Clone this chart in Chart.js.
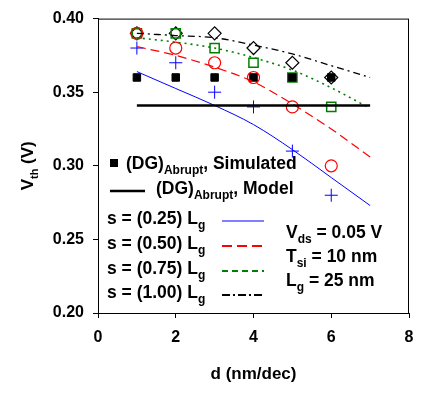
<!DOCTYPE html>
<html>
<head>
<meta charset="utf-8">
<script src="https://cdn.jsdelivr.net/npm/chart.js@4.4.1/dist/chart.umd.min.js"></script>
<style>
  html, body { margin: 0; padding: 0; background: #fff; }
  #wrap { position: relative; width: 424px; height: 393px; }
</style>
</head>
<body>
<div id="wrap"><canvas id="vthChart"></canvas></div>
<script>
// --- data ---
const dSim = [1, 2, 3, 4, 5, 6];
const dModel = [1, 2, 3, 4, 5, 6, 7];

const simAbrupt = [0.36, 0.36, 0.36, 0.36, 0.36, 0.36];
const modelAbrupt = [0.341, 0.341, 0.341, 0.341, 0.341, 0.341, 0.341];

const simS025 = [0.38, 0.37, 0.35, 0.34, 0.31, 0.28];
const simS050 = [0.39, 0.38, 0.37, 0.36, 0.34, 0.30];
const simS075 = [0.39, 0.39, 0.38, 0.37, 0.36, 0.34];
const simS100 = [0.39, 0.39, 0.39, 0.38, 0.37, 0.36];

const modelS025 = [0.364, 0.3525, 0.341, 0.328, 0.311, 0.292, 0.273];
const modelS050 = [0.381, 0.375, 0.367, 0.357, 0.342, 0.325, 0.306];
const modelS075 = [0.387, 0.384, 0.380, 0.3735, 0.365, 0.353, 0.339];
const modelS100 = [0.390, 0.3885, 0.387, 0.382, 0.376, 0.368, 0.360];

const xTicks = [0, 2, 4, 6, 8];
const yTicks = [0.20, 0.25, 0.30, 0.35, 0.40];

const FONT = '"Liberation Sans", Arial, sans-serif';
const BLUE = '#0000ff', RED = '#ff0000', GREEN = '#008000';
const LEG = 17.5;

const pts = (xs, ys) => xs.map((x, i) => ({ x: x, y: ys[i] }));

// draw text with subscripts: parts = [[text, isSub], ...]
function richWidth(ctx, parts, size) {
    let w = 0;
    parts.forEach(([t, sub]) => {
        ctx.font = `bold ${sub ? Math.round(size * 0.66) : size}px ${FONT}`;
        w += ctx.measureText(t).width;
    });
    return w;
}
function drawRich(ctx, parts, x, y, size) {
    parts.forEach(([t, sub]) => {
        ctx.font = `bold ${sub ? Math.round(size * 0.66) : size}px ${FONT}`;
        ctx.fillText(t, x, sub ? y + size * 0.28 : y);
        x += ctx.measureText(t).width;
    });
}

function sampleLine(ctx, x1, x2, y, color, width, dash) {
    ctx.save();
    ctx.strokeStyle = color;
    ctx.lineWidth = width;
    ctx.setLineDash(dash);
    ctx.beginPath();
    ctx.moveTo(x1, y);
    ctx.lineTo(x2, y);
    ctx.stroke();
    ctx.restore();
}

// --- frame, axis titles and legend ---
const annotations = {
    id: 'annotations',
    afterDraw(chart) {
        const { ctx, chartArea: a } = chart;
        ctx.save();
        ctx.strokeStyle = '#000';
        ctx.lineWidth = 1;
        ctx.strokeRect(a.left + 0.5, a.top + 0.5, a.right - a.left - 1, a.bottom - a.top);

        ctx.fillStyle = '#000';
        ctx.textAlign = 'left';
        ctx.textBaseline = 'alphabetic';

        // y title
        const yTitle = [['V', false], ['th', true], [' (V)', false]];
        ctx.save();
        ctx.translate(33, (a.top + a.bottom) / 2);
        ctx.rotate(-Math.PI / 2);
        drawRich(ctx, yTitle, -richWidth(ctx, yTitle, 17) / 2, 0, 17);
        ctx.restore();

        // x title
        const xTitle = [['d (nm/dec)', false]];
        drawRich(ctx, xTitle, (a.left + a.right) / 2 - richWidth(ctx, xTitle, 17) / 2, 379, 17);

        // legend
        ctx.fillRect(110, 159, 8, 8);
        drawRich(ctx, [['(DG)', false], ['Abrupt', true], [', Simulated', false]], 126, 169, LEG);
        sampleLine(ctx, 110, 145, 191, '#000', 2.5, []);
        drawRich(ctx, [['(DG)', false], ['Abrupt', true], [', Model', false]], 156, 194, LEG);

        const rows = [
            ['(0.25)', BLUE, 1.2, [], 218],
            ['(0.50)', RED, 2.2, [10, 5], 243],
            ['(0.75)', GREEN, 2.2, [6, 4], 268],
            ['(1.00)', '#000', 2.2, [8, 3, 2, 3], 292]
        ];
        rows.forEach(([s, col, w, dash, yc]) => {
            ctx.fillStyle = '#000';
            drawRich(ctx, [['s = ' + s + ' L', false], ['g', true]], 107, yc + 6, LEG);
            sampleLine(ctx, 222, 264, yc + 3, col, w, dash);
        });

        ctx.fillStyle = '#000';
        drawRich(ctx, [['V', false], ['ds', true], [' = 0.05 V', false]], 286, 238, LEG);
        drawRich(ctx, [['T', false], ['si', true], [' = 10 nm', false]], 286, 262, LEG);
        drawRich(ctx, [['L', false], ['g', true], [' = 25 nm', false]], 286, 286, LEG);
        ctx.restore();
    }
};

const modelLine = (data, color, width, dash) => ({
    data: pts(dModel, data),
    borderColor: color,
    borderWidth: width,
    borderDash: dash,
    pointRadius: 0,
    fill: false,
    tension: 0.4,
    cubicInterpolationMode: 'monotone'
});
const simPoints = (data, style, color, fillColor, radius, width) => ({
    data: pts(dSim, data),
    showLine: false,
    pointStyle: style,
    pointRadius: radius,
    pointBorderColor: color,
    pointBackgroundColor: fillColor,
    pointBorderWidth: width
});

new Chart(document.getElementById('vthChart'), {
    type: 'line',
    data: {
        datasets: [
            modelLine(modelAbrupt, '#000', 2.5, []),
            modelLine(modelS025, BLUE, 1, []),
            modelLine(modelS050, RED, 1.2, [9, 5]),
            modelLine(modelS075, GREEN, 1.6, [2, 4]),
            modelLine(modelS100, '#000', 1.3, [7, 4, 2, 4]),
            simPoints(simAbrupt, 'rect', '#000', '#000', 5.3, 1),
            simPoints(simS025, 'cross', BLUE, BLUE, 6.5, 1),
            simPoints(simS050, 'circle', RED, 'rgba(0,0,0,0)', 6, 1.2),
            simPoints(simS075, 'rect', GREEN, 'rgba(0,0,0,0)', 6.5, 1.5),
            simPoints(simS100, 'rectRot', '#000', 'rgba(0,0,0,0)', 6.5, 1.2)
        ]
    },
    plugins: [annotations],
    options: {
        responsive: true,
        maintainAspectRatio: false,
        animation: false,
        events: [],
        layout: { padding: { top: 13, right: 15, left: 0, bottom: 0 } },
        plugins: {
            legend: { display: false },
            tooltip: { enabled: false }
        },
        scales: {
            x: {
                type: 'linear',
                min: 0, max: 8,
                afterBuildTicks: (scale) => { scale.ticks = xTicks.map(v => ({ value: v })); },
                afterFit: (scale) => { scale.height = 80; },
                grid: { drawOnChartArea: false, drawTicks: true, tickLength: 5, color: '#000' },
                border: { display: true, color: '#000', width: 1 },
                ticks: {
                    color: '#000',
                    padding: 10,
                    maxRotation: 0,
                    font: { family: FONT, size: 16, weight: 'bold' }
                }
            },
            y: {
                min: 0.2, max: 0.4,
                afterBuildTicks: (scale) => { scale.ticks = yTicks.map(v => ({ value: v })); },
                afterFit: (scale) => { scale.width = 98; },
                grid: { drawOnChartArea: false, drawTicks: true, tickLength: 5, color: '#000' },
                border: { display: true, color: '#000', width: 1 },
                ticks: {
                    color: '#000',
                    padding: 9,
                    font: { family: FONT, size: 16, weight: 'bold' },
                    callback: (v) => v.toFixed(2)
                }
            }
        }
    }
});
</script>
</body>
</html>
